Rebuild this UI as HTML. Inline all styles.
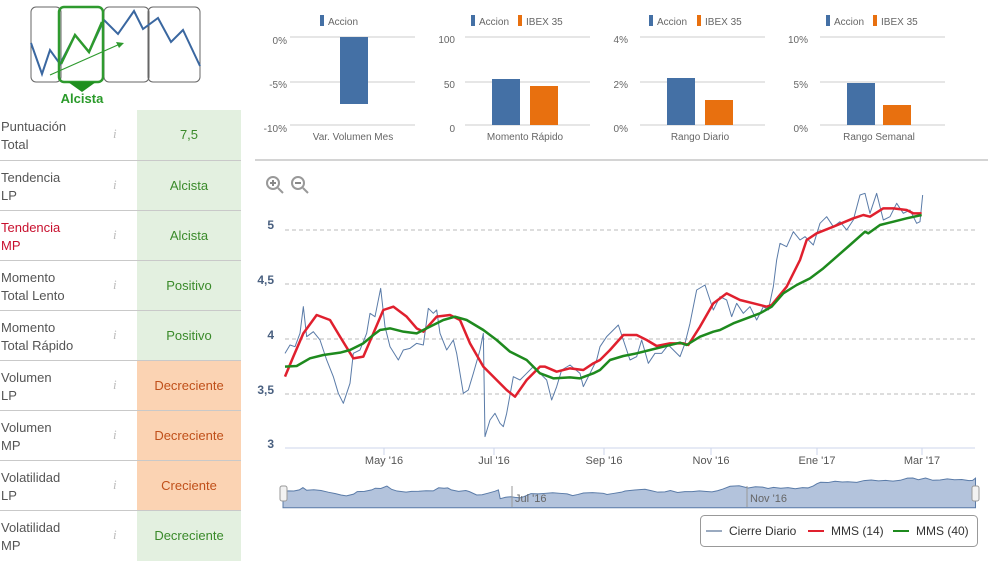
<!DOCTYPE html>
<html><head><meta charset="utf-8"><style>
body{margin:0;width:988px;height:559px;background:#fff;font-family:"Liberation Sans",sans-serif;position:relative;overflow:hidden}
.row{position:absolute;left:0;width:241px;height:50px;border-top:1px solid #c9c9c9}
.lab{position:absolute;left:1px;top:8px;font-size:13px;line-height:18px;color:#555}
.i{position:absolute;left:113px;top:16px;font-size:13px;color:#bbb;font-style:italic;font-family:"Liberation Serif",serif}
.val{position:absolute;left:137px;top:0;width:104px;height:50px;text-align:center;line-height:50px;font-size:13px}
.g{background:#e3f0e0;color:#3a8a2a}.o{background:#fbd3b3;color:#c0501a}
</style></head><body>
<svg width="988" height="559" style="position:absolute;left:0;top:0" font-family="Liberation Sans,sans-serif">
<!-- sparkline -->
<g fill="none">
<rect x="31" y="7" width="30" height="75" rx="5" stroke="#666"/>
<rect x="104" y="7" width="45" height="75" rx="5" stroke="#666"/>
<rect x="148" y="7" width="52" height="75" rx="5" stroke="#666"/>
<polyline points="31,43 42,74 50,50 60,64 75,35 89,52 104,20 118,34 134,11 143,29 158,18 171,42 183,30 200,66" stroke="#3a67a0" stroke-width="2"/>
<rect x="59" y="7" width="44" height="75" rx="5" stroke="#2e9a2e" stroke-width="2.5"/>
<polyline points="61,64 75,35 89,52 102,22" stroke="#2e9a2e" stroke-width="2.5"/>
<line x1="50" y1="75" x2="120" y2="44" stroke="#2e9a2e" stroke-width="1.2"/>
</g>
<polygon points="116,42 124,43 119,48" fill="#2e9a2e"/>
<polygon points="68,82 96,82 82,92" fill="#1f8f1f"/>
<text x="82" y="103" text-anchor="middle" font-size="13" font-weight="bold" fill="#2a9a2a">Alcista</text>
<!-- top panels -->
<g font-size="10" fill="#666">
<g stroke="#ccc"><line x1="290" y1="37" x2="415" y2="37"/><line x1="290" y1="82" x2="415" y2="82"/><line x1="290" y1="125" x2="415" y2="125"/>
<line x1="465" y1="37" x2="590" y2="37"/><line x1="465" y1="82" x2="590" y2="82"/><line x1="465" y1="125" x2="590" y2="125"/>
<line x1="640" y1="37" x2="765" y2="37"/><line x1="640" y1="82" x2="765" y2="82"/><line x1="640" y1="125" x2="765" y2="125"/>
<line x1="820" y1="37" x2="945" y2="37"/><line x1="820" y1="82" x2="945" y2="82"/><line x1="820" y1="125" x2="945" y2="125"/></g>
<rect x="340" y="37" width="28" height="67" fill="#4470a5"/>
<rect x="492" y="79" width="28" height="46" fill="#4470a5"/><rect x="530" y="86" width="28" height="39" fill="#e8700f"/>
<rect x="667" y="78" width="28" height="47" fill="#4470a5"/><rect x="705" y="100" width="28" height="25" fill="#e8700f"/>
<rect x="847" y="83" width="28" height="42" fill="#4470a5"/><rect x="883" y="105" width="28" height="20" fill="#e8700f"/>
<g text-anchor="end"><text x="287" y="44">0%</text><text x="287" y="88">-5%</text><text x="287" y="132">-10%</text>
<text x="455" y="43">100</text><text x="455" y="88">50</text><text x="455" y="132">0</text>
<text x="628" y="43">4%</text><text x="628" y="88">2%</text><text x="628" y="132">0%</text>
<text x="808" y="43">10%</text><text x="808" y="88">5%</text><text x="808" y="132">0%</text></g>
<g text-anchor="middle"><text x="353" y="140">Var. Volumen Mes</text><text x="525" y="140">Momento Rápido</text><text x="700" y="140">Rango Diario</text><text x="879" y="140">Rango Semanal</text></g>
<rect x="320" y="15" width="4" height="11" fill="#4470a5"/><text x="328" y="25">Accion</text>
<rect x="471" y="15" width="4" height="11" fill="#4470a5"/><text x="479" y="25">Accion</text><rect x="518" y="15" width="4" height="11" fill="#e8700f"/><text x="526" y="25">IBEX 35</text>
<rect x="649" y="15" width="4" height="11" fill="#4470a5"/><text x="657" y="25">Accion</text><rect x="697" y="15" width="4" height="11" fill="#e8700f"/><text x="705" y="25">IBEX 35</text>
<rect x="826" y="15" width="4" height="11" fill="#4470a5"/><text x="834" y="25">Accion</text><rect x="873" y="15" width="4" height="11" fill="#e8700f"/><text x="881" y="25">IBEX 35</text>
</g>
<line x1="255" y1="160" x2="988" y2="160" stroke="#aaa"/>
<!-- zoom icons -->
<g stroke="#999" stroke-width="2" fill="#fff"><circle cx="273" cy="183" r="6"/><line x1="278" y1="188" x2="283" y2="193"/><circle cx="298" cy="183" r="6"/><line x1="303" y1="188" x2="308" y2="193"/></g>
<g stroke="#888" stroke-width="2"><line x1="270" y1="183" x2="276" y2="183"/><line x1="273" y1="180" x2="273" y2="186"/><line x1="295" y1="183" x2="301" y2="183"/></g>
<!-- main chart -->
<g stroke="#bbb" stroke-dasharray="4,3"><line x1="285" y1="230" x2="975" y2="230"/><line x1="285" y1="284" x2="975" y2="284"/><line x1="285" y1="339" x2="975" y2="339"/><line x1="285" y1="394" x2="975" y2="394"/></g>
<line x1="285" y1="448" x2="975" y2="448" stroke="#ccd6eb"/>
<g stroke="#ccd6eb"><line x1="384" y1="448" x2="384" y2="455"/><line x1="494" y1="448" x2="494" y2="455"/><line x1="604" y1="448" x2="604" y2="455"/><line x1="711" y1="448" x2="711" y2="455"/><line x1="817" y1="448" x2="817" y2="455"/><line x1="922" y1="448" x2="922" y2="455"/></g>
<g font-size="12" font-weight="bold" fill="#4a6080" text-anchor="end"><text x="274" y="229">5</text><text x="274" y="284">4,5</text><text x="274" y="339">4</text><text x="274" y="394">3,5</text><text x="274" y="448">3</text></g>
<g font-size="11" fill="#555" text-anchor="middle"><text x="384" y="464">May '16</text><text x="494" y="464">Jul '16</text><text x="604" y="464">Sep '16</text><text x="711" y="464">Nov '16</text><text x="817" y="464">Ene '17</text><text x="922" y="464">Mar '17</text></g>
<g transform="translate(250,160) scale(0.33333)" fill="none" stroke-linejoin="round">
<polyline id="blue" vector-effect="non-scaling-stroke" stroke="#5a7ba8" stroke-width="1" points="105,580 120,555 135,560 150,520 160,440 170,530 190,515 210,540 230,600 250,650 265,700 280,730 300,670 310,580 330,570 350,520 360,460 375,470 392,385 405,500 420,560 445,600 460,570 480,565 500,550 520,555 535,445 550,460 560,450 570,520 590,570 610,540 620,580 640,700 655,690 670,640 690,570 700,520 705,830 720,780 735,760 750,790 760,800 770,760 790,650 810,660 830,640 850,620 870,640 890,660 905,720 920,680 935,630 960,615 990,640 1000,680 1020,640 1040,600 1050,560 1070,530 1090,510 1105,495 1120,540 1140,600 1160,590 1175,540 1195,610 1215,580 1235,580 1255,555 1275,575 1290,590 1305,550 1320,490 1340,390 1365,375 1390,450 1410,410 1430,420 1445,470 1460,430 1480,460 1500,440 1520,480 1540,440 1555,450 1570,380 1580,300 1590,250 1610,260 1630,215 1650,240 1665,230 1690,255 1710,190 1730,170 1750,200 1770,185 1790,210 1810,180 1830,105 1845,100 1860,160 1880,100 1900,180 1920,170 1940,130 1960,160 1980,150 2000,190 2010,185 2018,105"/>
<polyline vector-effect="non-scaling-stroke" stroke="#e0202e" stroke-width="2.5" points="105,650 130,590 160,520 200,465 240,480 270,530 310,595 340,590 370,520 400,450 430,440 470,470 500,505 520,515 560,470 600,465 630,480 660,550 700,620 740,660 770,690 795,710 830,660 870,620 885,620 920,635 960,625 1000,630 1030,610 1050,600 1080,570 1120,525 1160,525 1190,540 1220,558 1260,550 1300,550 1315,555 1350,500 1390,430 1430,400 1470,420 1510,430 1550,440 1565,435 1610,380 1650,300 1670,240 1700,220 1750,200 1810,175 1840,165 1860,170 1900,145 1930,145 1970,150 1990,160 2015,160"/>
<polyline vector-effect="non-scaling-stroke" stroke="#1e8a1e" stroke-width="2.5" points="105,620 140,618 180,595 220,585 270,578 300,570 340,550 370,525 390,510 420,505 460,515 500,520 540,500 580,480 615,470 650,480 700,510 740,540 780,575 830,600 870,640 910,655 960,652 990,655 1030,640 1050,630 1080,600 1120,588 1160,580 1200,570 1240,560 1290,548 1310,555 1350,530 1390,515 1410,510 1450,490 1490,475 1530,460 1565,440 1600,400 1640,375 1680,355 1720,325 1760,290 1800,255 1845,215 1855,220 1890,195 1930,185 1970,175 2015,165"/>
</g>
<!-- navigator -->
<g transform="matrix(0.362,0,0,0.0283,245,475.2)">
<polygon fill="#b3c3dc" stroke="#5a7ba8" vector-effect="non-scaling-stroke" points="105,1150 105,580 120,555 135,560 150,520 160,440 170,530 190,515 210,540 230,600 250,650 265,700 280,730 300,670 310,580 330,570 350,520 360,460 375,470 392,385 405,500 420,560 445,600 460,570 480,565 500,550 520,555 535,445 550,460 560,450 570,520 590,570 610,540 620,580 640,700 655,690 670,640 690,570 700,520 705,830 720,780 735,760 750,790 760,800 770,760 790,650 810,660 830,640 850,620 870,640 890,660 905,720 920,680 935,630 960,615 990,640 1000,680 1020,640 1040,600 1050,560 1070,530 1090,510 1105,495 1120,540 1140,600 1160,590 1175,540 1195,610 1215,580 1235,580 1255,555 1275,575 1290,590 1305,550 1320,490 1340,390 1365,375 1390,450 1410,410 1430,420 1445,470 1460,430 1480,460 1500,440 1520,480 1540,440 1555,450 1570,380 1580,300 1590,250 1610,260 1630,215 1650,240 1665,230 1690,255 1710,190 1730,170 1750,200 1770,185 1790,210 1810,180 1830,105 1845,100 1860,160 1880,100 1900,180 1920,170 1940,130 1960,160 1980,150 2000,190 2010,185 2018,105 2018,1150"/>
</g>
<g stroke="#999"><line x1="512" y1="486" x2="512" y2="507"/><line x1="747" y1="486" x2="747" y2="507"/></g>
<g font-size="11" fill="#666"><text x="515" y="502">Jul '16</text><text x="750" y="502">Nov '16</text></g>
<g fill="#f2f2f2" stroke="#999"><rect x="280" y="486" width="7" height="15" rx="2"/><rect x="972" y="486" width="7" height="15" rx="2"/></g>
<!-- legend -->
<rect x="700.5" y="515.5" width="277" height="31" rx="4" fill="#fff" stroke="#999"/>
<g font-size="12" fill="#333"><line x1="706" y1="531" x2="722" y2="531" stroke="#9aaac0" stroke-width="2"/><text x="729" y="535">Cierre Diario</text>
<line x1="808" y1="531" x2="824" y2="531" stroke="#e0202e" stroke-width="2"/><text x="831" y="535">MMS (14)</text>
<line x1="893" y1="531" x2="909" y2="531" stroke="#1e8a1e" stroke-width="2"/><text x="916" y="535">MMS (40)</text></g>
</svg>
<div class="row" style="top:110px;border-top:none"><div class="lab">Puntuación<br>Total</div><div class="i">i</div><div class="val g">7,5</div></div>
<div class="row" style="top:160px"><div class="lab">Tendencia<br>LP</div><div class="i">i</div><div class="val g">Alcista</div></div>
<div class="row" style="top:210px"><div class="lab" style="color:#c8102e">Tendencia<br>MP</div><div class="i">i</div><div class="val g">Alcista</div></div>
<div class="row" style="top:260px"><div class="lab">Momento<br>Total Lento</div><div class="i">i</div><div class="val g">Positivo</div></div>
<div class="row" style="top:310px"><div class="lab">Momento<br>Total Rápido</div><div class="i">i</div><div class="val g">Positivo</div></div>
<div class="row" style="top:360px"><div class="lab">Volumen<br>LP</div><div class="i">i</div><div class="val o">Decreciente</div></div>
<div class="row" style="top:410px"><div class="lab">Volumen<br>MP</div><div class="i">i</div><div class="val o">Decreciente</div></div>
<div class="row" style="top:460px"><div class="lab">Volatilidad<br>LP</div><div class="i">i</div><div class="val o">Creciente</div></div>
<div class="row" style="top:510px"><div class="lab">Volatilidad<br>MP</div><div class="i">i</div><div class="val g">Decreciente</div></div>
</body></html>
